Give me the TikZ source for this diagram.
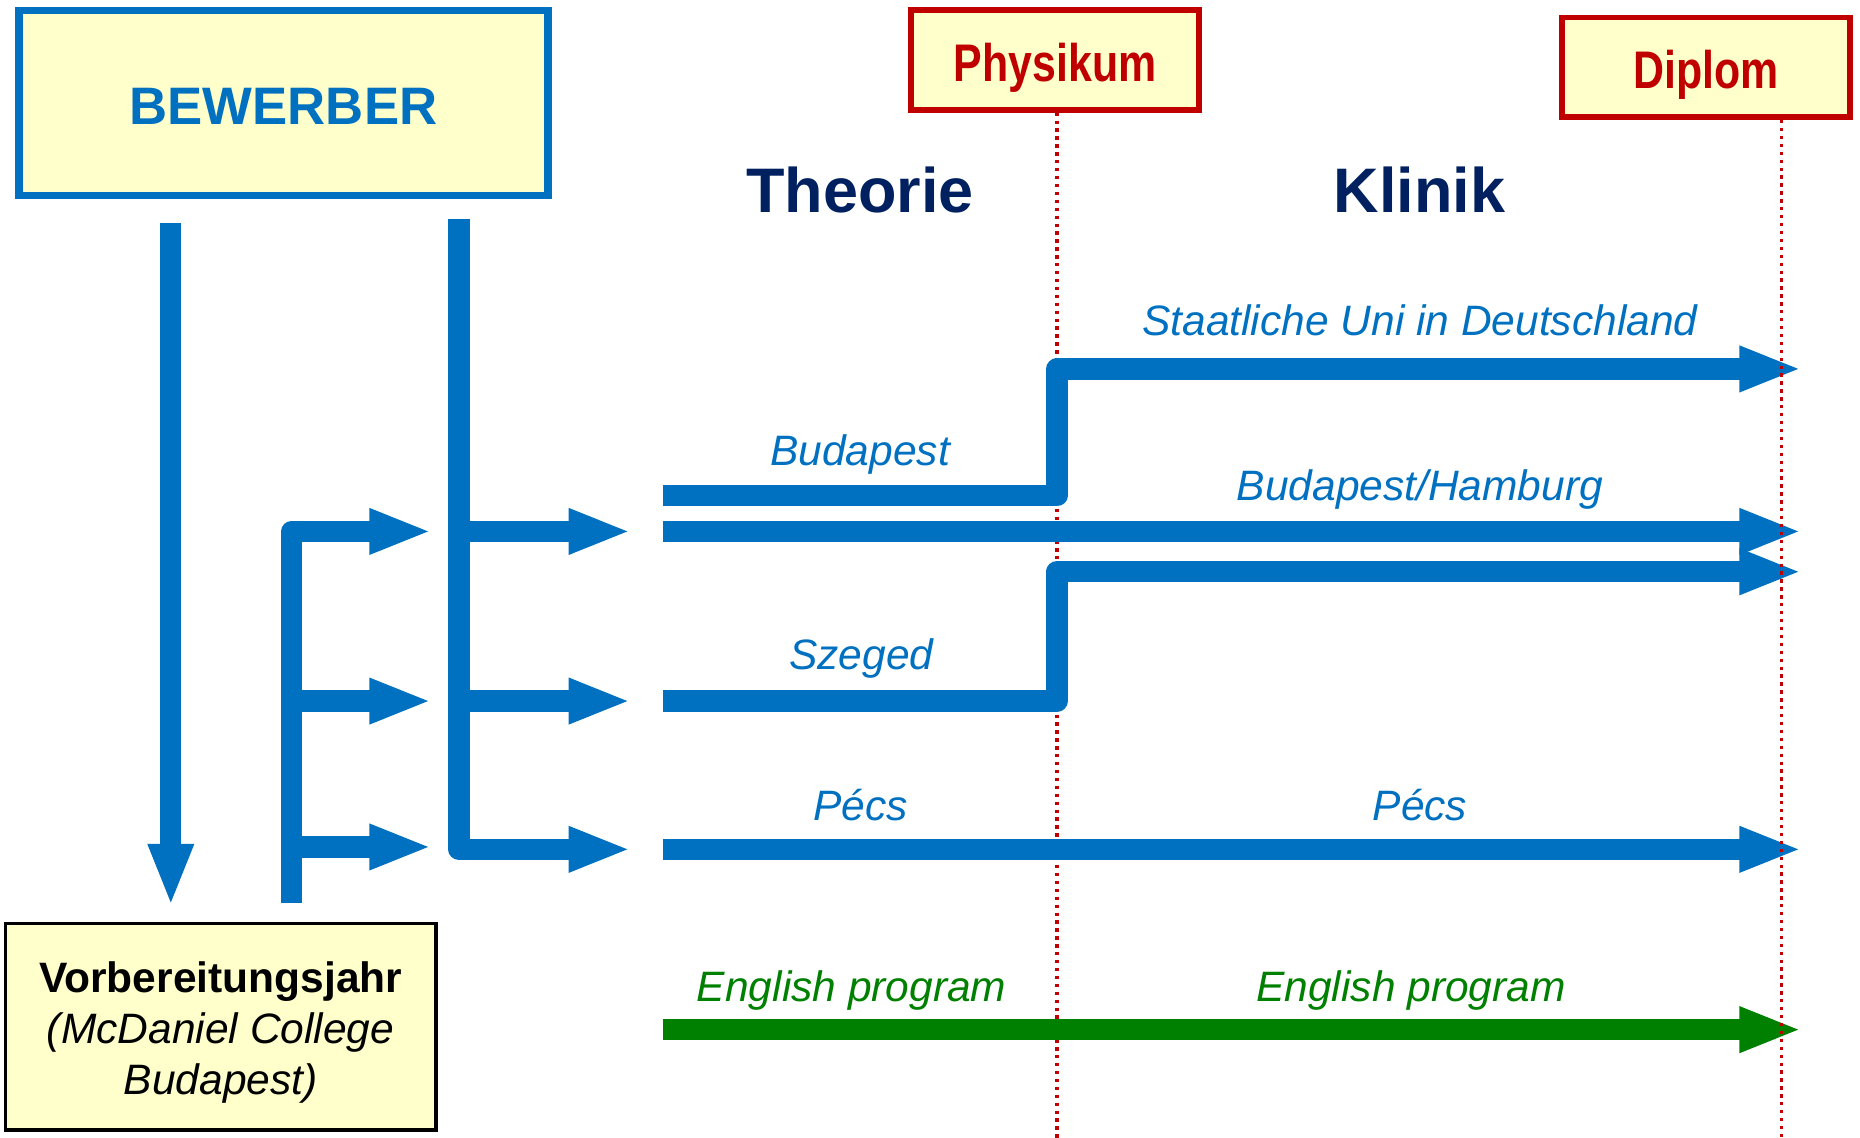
\documentclass[tikz,border=0pt]{standalone}
\usepackage{fontspec}
\setmainfont{Liberation Sans}
\newfontfamily\narrowfont[FakeStretch=0.81]{Liberation Sans}
\usetikzlibrary{arrows.meta, calc, positioning}
\definecolor{bblue}{HTML}{0070C0}
\definecolor{dred}{HTML}{C00000}
\definecolor{navy}{HTML}{002060}
\definecolor{pgreen}{HTML}{008000}
\definecolor{lyellow}{HTML}{FFFFCC}
\tikzset{
    bar/.style = {line width=10.2pt, draw=bblue, line join=round}, % thick path without a tip
    flow/.style = {bar, -{Triangle[length=30pt,width=20pt]}}, % thick path ending in a big triangle
    applicant/.style = {draw=bblue, fill=lyellow, line width=3.4pt, minimum width=8.92cm, minimum height=3.12cm, text=bblue, text height=20.5pt, text depth=0pt, font=\fontsize{25.3}{30}\selectfont\bfseries},
    exam/.style = {draw=dred, fill=lyellow, line width=2.8pt, minimum width=4.85cm, minimum height=1.68cm, text=dred, text height=20.7pt, text depth=0pt, font=\narrowfont\fontsize{25.4}{30}\selectfont\bfseries},
    prep/.style = {draw=black, fill=lyellow, line width=1.6pt, minimum width=7.26cm, minimum height=3.48cm},
    preptext/.style = {align=center, font=\fontsize{20.4}{24.5}\selectfont},
    milestone/.style = {dred, line width=1.6pt, dash pattern=on 1.6pt off 2.2pt}, % dotted red line below an exam
    phase/.style = {navy, anchor=base, font=\fontsize{30.2}{36}\selectfont\bfseries},
    lbl/.style = {bblue, anchor=base, inner sep=0pt, font=\fontsize{20.4}{24.5}\selectfont\itshape}
}
\begin{document}
\begin{tikzpicture}[x=0.02cm, y=-0.02cm] % one unit is one pixel, y runs downwards
    \useasboundingbox (0,0) rectangle (1568,959);

    % boxes
    \node[applicant] (bew) at (239,87) {BEWERBER};
    \node[exam] (phys) at (889.5,50.5) {Physikum};
    \node[exam] (dipl) at (1438,56.75) {Diplom};
    \node[prep] (prep) at (186,865.5) {};
    \node[preptext] (prep-t) at ($(prep.center)+(0,5)$) {\textbf{Vorbereitungsjahr}\\\textit{(McDaniel College}\\\textit{Budapest)}};

    % phases
    \node[phase] (theo) at (725,179) {Theorie};
    \node[phase] (klin) at (1196.5,179) {Klinik};

    % end points of the study paths
    \coordinate (bud-s) at (559,418);
    \coordinate (bud-k) at (891,418);
    \coordinate (staat-e) at (1519,311);
    \coordinate (bh-s) at (559,448);
    \coordinate (bh-e) at (1519,448);
    \coordinate (sze-s) at (559,591);
    \coordinate (sze-k) at (891,591);
    \coordinate (sze-e) at (1519,482);
    \coordinate (pecs-s) at (559,716);
    \coordinate (pecs-e) at (1519,716);
    \coordinate (eng-s) at (559,868);
    \coordinate (eng-e) at (1519,868);
    \coordinate (dipl-m) at (1502,959);

    % Physikum line lies below the paths
    \draw[milestone] (phys.south -| bud-k) -- (bud-k |- dipl-m);

    % left part
    \coordinate (v1-top) at (144,188);
    \coordinate (v1-tip) at (144,764);
    \coordinate (v2-top) at (387,185);
    \coordinate (v2-a) at (532,448);
    \coordinate (v2-b) at (532,591);
    \coordinate (v2-c) at (532,716);
    \coordinate (br-bot) at (246,761);
    \coordinate (br-a) at (364,448);
    \coordinate (br-b) at (364,591);
    \coordinate (br-c) at (364,714);

    \draw[flow] (v1-top) -- (v1-tip);
    \draw[flow] (v2-top) |- (v2-c);
    \draw[flow] (v2-top |- v2-a) -- (v2-a);
    \draw[flow] (v2-top |- v2-b) -- (v2-b);
    \draw[flow] (br-bot) |- (br-a);
    \draw[flow] (br-bot |- br-b) -- (br-b);
    \draw[flow] (br-bot |- br-c) -- (br-c);

    % study paths
    \draw[flow] (bud-s) -- (bud-k) |- (staat-e);
    \draw[flow] (bh-s) -- (bh-e);
    \draw[flow] (sze-s) -- (sze-k) |- (sze-e);
    \draw[flow] (pecs-s) -- (pecs-e);
    \draw[flow, draw=pgreen] (eng-s) -- (eng-e);

    % Diplom line lies over the tips
    \draw[milestone] (dipl.south -| dipl-m) -- (dipl-m);

    % labels
    \node[lbl] (l-staat) at (1197,283) {Staatliche Uni in Deutschland};
    \node[lbl] (l-bud) at (725,392) {Budapest};
    \node[lbl] (l-bh) at (1197,422) {Budapest/Hamburg};
    \node[lbl] (l-sze) at (726,564) {Szeged};
    \node[lbl] (l-pecs1) at (725.5,692) {Pécs};
    \node[lbl] (l-pecs2) at (1197,692) {Pécs};
    \node[lbl, pgreen] (l-eng1) at (718,844.5) {English program};
    \node[lbl, pgreen] (l-eng2) at (1189.5,844.5) {English program};
\end{tikzpicture}
\end{document}
